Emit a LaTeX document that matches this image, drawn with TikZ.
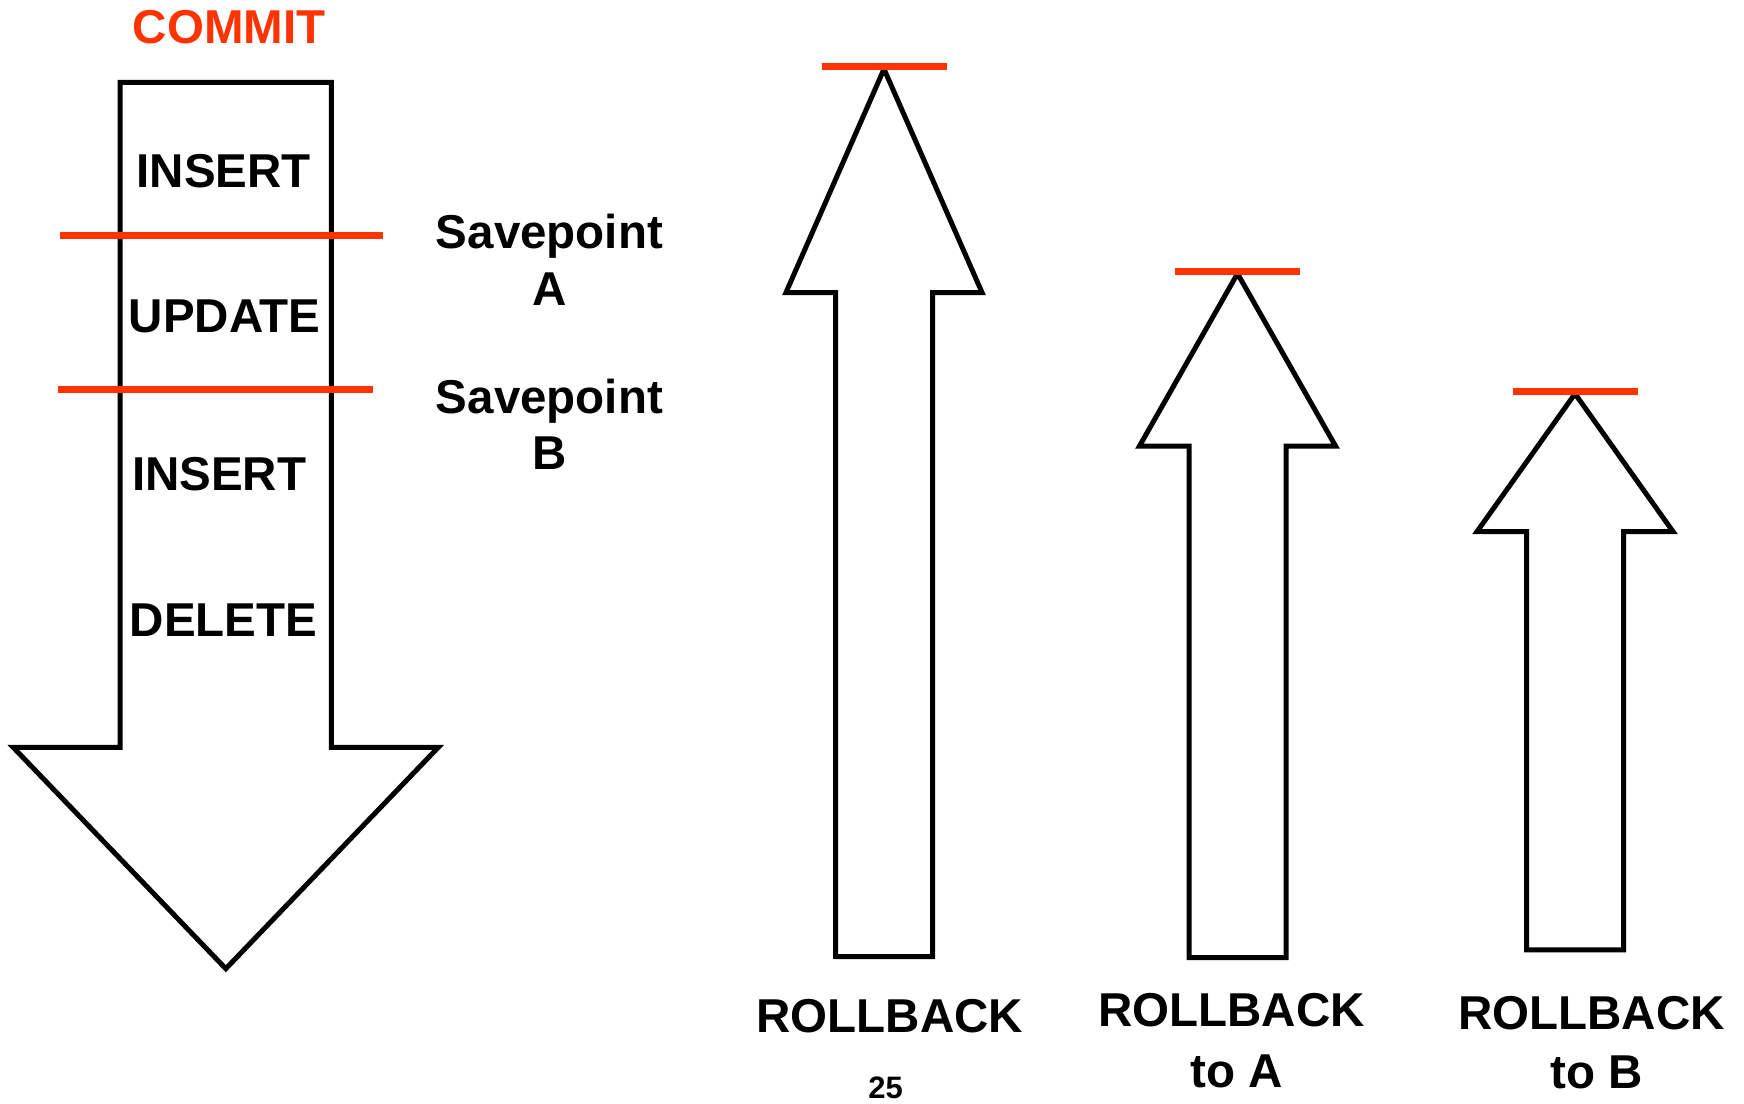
\documentclass[tikz,border=0pt]{standalone}
\usepackage{fontspec}
\setmainfont{Liberation Sans}
\definecolor{savered}{RGB}{255,51,0}
\begin{document}
\begin{tikzpicture}[x=1pt,y=-1pt,
  outline/.style={draw=black, line width=5pt, line join=miter, fill=white},
  redbar/.style={draw=savered, line width=7pt},
  lbl/.style={font=\fontsize{47.5}{57}\selectfont\bfseries, inner sep=0pt, anchor=base},
  small lbl/.style={font=\fontsize{31}{37}\selectfont\bfseries, inner sep=0pt, anchor=base},
]
\useasboundingbox (0,0) rectangle (1744,1103);

% transaction arrow pointing down
\draw[outline] (120.1,82.3) -- (331.4,82.3) -- (331.4,747.4) -- (438.2,747.4)
  -- (225.8,968.7) -- (13.3,747.4) -- (120.1,747.4) -- cycle;

% savepoint markers across the transaction
\draw[redbar] (60,235.8) -- (382.6,235.8);
\draw[redbar] (57.8,389.3) -- (372.6,389.3);

\node[lbl, text=savered] (commit) at (229.1,43.7) {COMMIT};
\node[lbl] (ins1) at (223.6,187.2) {INSERT};
\node[lbl] (upd) at (224.7,332.9) {UPDATE};
\node[lbl] (ins2) at (219.1,490.8) {INSERT};
\node[lbl] (del) at (223.6,636.5) {DELETE};

\node[lbl] (spA1) at (549.4,248.3) {Savepoint};
\node[lbl] (spA2) at (549.4,305.1) {A};
\node[lbl] (spB1) at (549.4,413) {Savepoint};
\node[lbl] (spB2) at (549.4,469.7) {B};

% rollback arrows: centre x / tip y / head base y / bottom y
\foreach \cx/\tip/\hb/\bot in {884/69/292.5/956.5, 1237.5/273.6/446/957.6, 1575/393.7/531.6/949.8} {
  \draw[outline] (\cx,\tip) -- (\cx+98,\hb) -- (\cx+48.5,\hb) -- (\cx+48.5,\bot)
    -- (\cx-48.5,\bot) -- (\cx-48.5,\hb) -- (\cx-98,\hb) -- cycle;
  \draw[redbar] (\cx-62.5,\tip-2.5) -- (\cx+62.5,\tip-2.5);
}

\node[lbl] (rb) at (889.8,1032.4) {ROLLBACK};
\node[lbl] (rbA1) at (1231.5,1026.9) {ROLLBACK};
\node[lbl] (rbA2) at (1236.8,1087) {to A};
\node[lbl] (rbB1) at (1591.6,1029.1) {ROLLBACK};
\node[lbl] (rbB2) at (1597.1,1088) {to B};

\node[small lbl] (page) at (885.5,1098) {25};
\end{tikzpicture}
\end{document}
